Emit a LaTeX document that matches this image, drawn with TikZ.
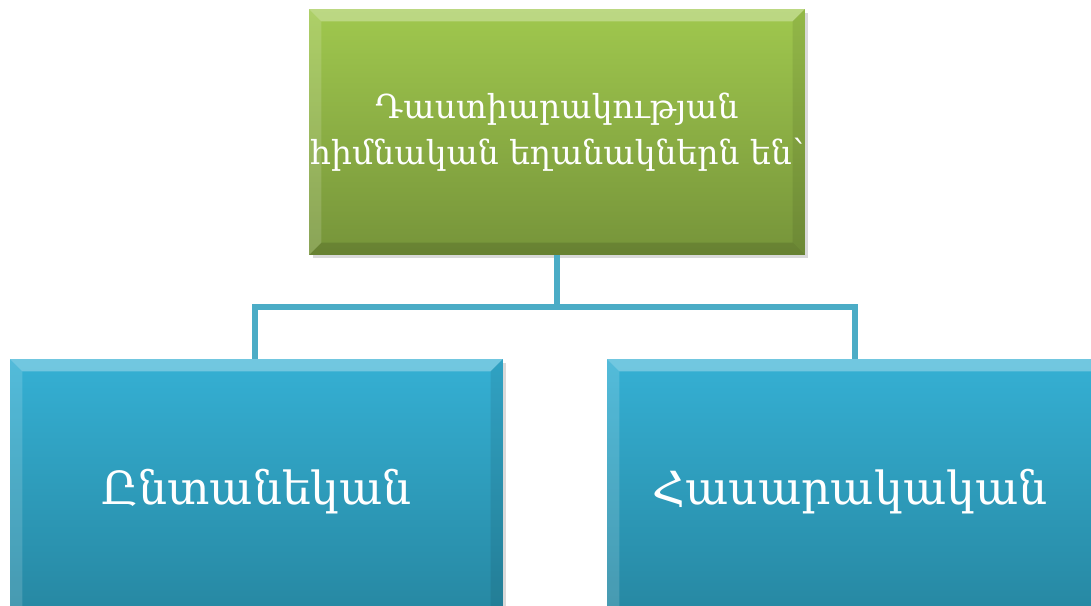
\documentclass[tikz,border=0pt]{standalone}
\usepackage{fontspec}
\setmainfont{DejaVu Serif}
\usetikzlibrary{shadows}
\definecolor{main-light}{RGB}{160,200,78}
\definecolor{main-dark}{RGB}{118,148,58}
\definecolor{kind-light}{RGB}{53,176,212}
\definecolor{kind-dark}{RGB}{38,134,160}
\definecolor{link-color}{RGB}{75,172,198}

\tikzset{
  bevel/.style={path picture={
      \fill[white,opacity=0.3] (path picture bounding box.north west) -- (path picture bounding box.north east)
        -- ([shift={(-7pt,-7pt)}]path picture bounding box.north east) -- ([shift={(7pt,-7pt)}]path picture bounding box.north west) -- cycle;
      \fill[white,opacity=0.15] (path picture bounding box.north west) -- (path picture bounding box.south west)
        -- ([shift={(7pt,7pt)}]path picture bounding box.south west) -- ([shift={(7pt,-7pt)}]path picture bounding box.north west) -- cycle;
      \fill[black,opacity=0.08] (path picture bounding box.north east) -- (path picture bounding box.south east)
        -- ([shift={(-7pt,7pt)}]path picture bounding box.south east) -- ([shift={(-7pt,-7pt)}]path picture bounding box.north east) -- cycle;
      \fill[black,opacity=0.12] (path picture bounding box.south west) -- (path picture bounding box.south east)
        -- ([shift={(-7pt,7pt)}]path picture bounding box.south east) -- ([shift={(7pt,7pt)}]path picture bounding box.south west) -- cycle;
  }},
  mainbox/.style={bevel, minimum width=9.92cm, minimum height=4.92cm, inner sep=0pt,
    top color=main-light, bottom color=main-dark, text=white, align=center,
    font=\fontsize{18.8}{26}\selectfont,
    drop shadow={opacity=0.3, shadow xshift=2pt, shadow yshift=-2pt}},
  kindbox/.style={bevel, minimum width=9.86cm, minimum height=5.3cm, inner sep=0pt,
    top color=kind-light, bottom color=kind-dark, text=white,
    font=\fontsize{26}{32}\selectfont,
    drop shadow={opacity=0.3, shadow xshift=2pt, shadow yshift=-2pt}},
  link/.style={draw=link-color, line width=0.11cm}
}

\begin{document}
\begin{tikzpicture}[x=0.02cm, y=-0.02cm]
    \useasboundingbox (0,0) rectangle (1091,605);
    \clip (0,0) rectangle (1091,605);

    % connectors
    \coordinate (split) at (557,307);
    \node[mainbox] (main) at (557,132) {Դաստիարակության\\հիմնական եղանակներն են՝};
    \draw[link] (main.south) -- (split);
    \draw[link] (split) -| (255,359) coordinate (home-top);
    \draw[link] (split) -| (855,359) coordinate (social-top);

    \node[kindbox] (home) at (256.5,491.5) {\raisebox{4pt}{Ընտանեկան}};
    \node[kindbox, minimum width=10cm] (social) at (857,491.5) {\hspace*{-8pt}\raisebox{4pt}{Հասարակական}};
\end{tikzpicture}
\end{document}
